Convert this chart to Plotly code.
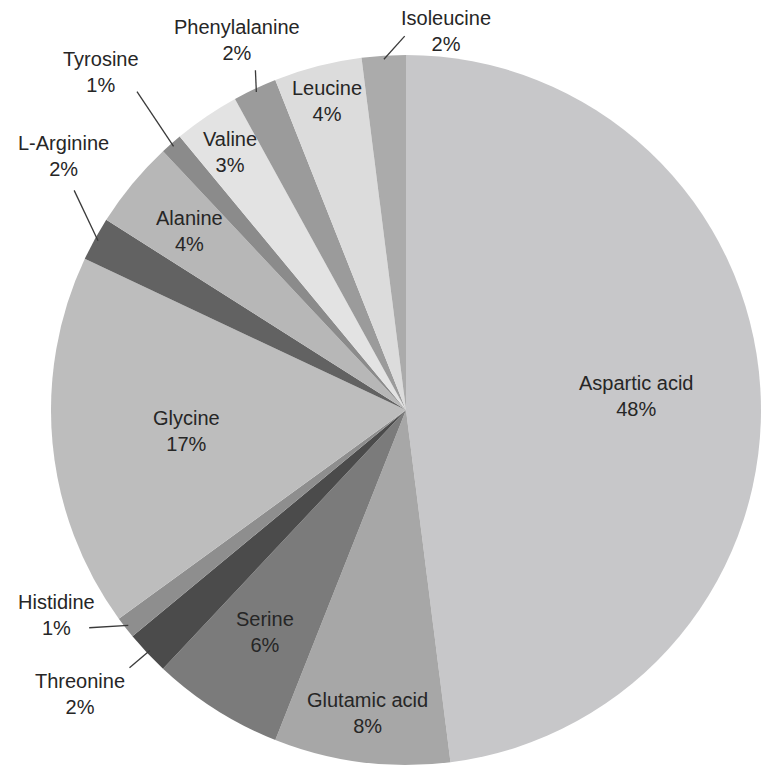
import math
import plotly.graph_objects as go

# Amino acid composition, clockwise from 12 o'clock
amino_acids = [
    "Aspartic acid", "Glutamic acid", "Serine", "Threonine", "Histidine",
    "Glycine", "L-Arginine", "Alanine", "Tyrosine", "Valine",
    "Phenylalanine", "Leucine", "Isoleucine",
]
percentages = [48, 8, 6, 2, 1, 17, 2, 4, 1, 3, 2, 4, 2]
slice_colors = [
    "#c7c7c9", "#a7a7a7", "#7b7b7b", "#4b4b4b", "#8e8e8e",
    "#bdbdbd", "#626262", "#b7b7b7", "#8b8b8b", "#e3e3e3",
    "#9b9b9b", "#dcdcdc", "#ababab",
]

W, H = 761, 769
# pie geometry in pixels
CX, CY, R = 406.0, 410.0, 355.0

# label placement: inside labels sit on the slice bisector at a radius fraction;
# outside labels get (angle, radius fraction) for the text and the leader end
inside_r = {
    "Aspartic acid": 0.65, "Glutamic acid": 0.86, "Serine": 0.74,
    "Glycine": 0.62, "Alanine": 0.79, "Valine": 0.88, "Leucine": 0.90,
}
outside_pos = {
    "Isoleucine": ((6.0, 1.073), (359.8, 1.053)),
    "Phenylalanine": ((335.4, 1.146), (336.1, 1.047)),
    "Tyrosine": ((317.9, 1.283), (319.8, 1.174)),
    "L-Arginine": ((306.6, 1.200), (303.5, 1.121)),
    "Histidine": ((239.6, 1.143), (235.5, 1.083)),
    "Threonine": ((228.9, 1.218), (227.0, 1.065)),
}

FONT = dict(family="Liberation Sans, Arial, sans-serif", size=20, color="#262626")


def to_paper(angle_deg, rfrac):
    a = math.radians(angle_deg)
    px = CX + rfrac * R * math.sin(a)
    py = CY - rfrac * R * math.cos(a)
    return px / W, 1 - py / H


fig = go.Figure(
    go.Pie(
        labels=amino_acids,
        values=percentages,
        marker=dict(colors=slice_colors, line=dict(width=0)),
        sort=False,
        direction="clockwise",
        rotation=0,
        textinfo="none",
        hoverinfo="label+percent",
        domain=dict(
            x=[(CX - R) / W, (CX + R) / W],
            y=[1 - (CY + R) / H, 1 - (CY - R) / H],
        ),
    )
)

total = sum(percentages)
annotations, shapes = [], []
cum = 0.0
for name, val in zip(amino_acids, percentages):
    start = cum / total * 360
    cum += val
    end = cum / total * 360
    mid = (start + end) / 2
    text = f"{name}<br>{val}%"
    if name in inside_r:
        x, y = to_paper(mid, inside_r[name])
    else:
        (ta, tr), (la, lr) = outside_pos[name]
        x, y = to_paper(ta, tr)
        x0, y0 = to_paper(mid, 0.99)
        x1, y1 = to_paper(la, lr)
        shapes.append(dict(type="line", xref="paper", yref="paper",
                           x0=x0, y0=y0, x1=x1, y1=y1,
                           line=dict(color="#3a3a3a", width=1.3)))
    annotations.append(dict(x=x, y=y, xref="paper", yref="paper", text=text,
                            showarrow=False, font=FONT, align="center",
                            xanchor="center", yanchor="middle"))

fig.update_layout(
    width=W, height=H,
    margin=dict(l=0, r=0, t=0, b=0),
    paper_bgcolor="white",
    plot_bgcolor="white",
    showlegend=False,
    annotations=annotations,
    shapes=shapes,
)

fig.write_html("out.html")
